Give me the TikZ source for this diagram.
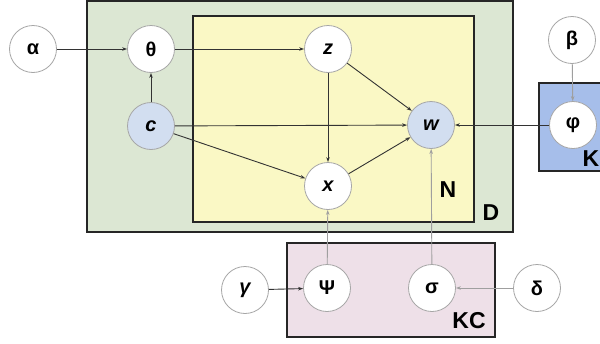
\documentclass[tikz,border=0pt]{standalone}
\usepackage{fontspec}
\setmainfont{Liberation Sans}
\usetikzlibrary{arrows.meta}
\definecolor{dgreen}{HTML}{DCE7D3}
\definecolor{nyellow}{HTML}{FAF8C5}
\definecolor{kblue}{HTML}{A6BEEA}
\definecolor{kcpink}{HTML}{EEE0E8}
\definecolor{obsblue}{HTML}{D2DEF0}
\definecolor{edgegray}{HTML}{333333}
\tikzset{
  var/.style={circle, draw=gray!70, line width=0.8pt, fill=white, minimum size=47pt, inner sep=0pt, font=\fontsize{20}{24}\selectfont\bfseries},
  obs/.style={var, fill=obsblue},
  plate/.style={draw=black!85, line width=1.3pt},
  platelabel/.style={font=\fontsize{23}{26}\selectfont\bfseries, inner sep=0pt},
  edge/.style={draw=edgegray, line width=0.9pt, -{Stealth[length=5pt,width=3.5pt]}},
  ledge/.style={edge, draw=gray!75}
}
\begin{document}
\begin{tikzpicture}[x=1pt,y=-1pt]
\useasboundingbox (0,0) rectangle (600,343);
\fill[white] (0,0) rectangle (600,343);
% plates
\draw[plate, fill=dgreen] (87,1) rectangle (513,232);
\draw[plate, fill=nyellow] (193,16) rectangle (474,222);
\draw[plate, fill=kblue] (539,83) rectangle (620,171);
\draw[plate, fill=kcpink] (287,243) rectangle (495,337);
\node[platelabel] (Nlab) at (448,190) {N};
\node[platelabel] (Dlab) at (491,213) {D};
\node[platelabel] (Klab) at (591,159) {K};
\node[platelabel] (KClab) at (469,321) {KC};
% nodes
\node[var] (alpha) at (33,49) {α};
\node[var] (theta) at (151,49) {θ};
\node[obs] (c) at (151,126) {\itshape c};
\node[var] (z) at (328,49) {\itshape z};
\node[obs] (w) at (431,125) {\itshape w};
\node[var] (x) at (328,186) {\itshape x};
\node[var] (phi) at (573,125) {φ};
\node[var] (beta) at (572,40) {β};
\node[var] (gamma) at (245,290) {\itshape γ};
\node[var] (psi) at (327,288) {Ψ};
\node[var] (sigma) at (432,288) {σ};
\node[var] (delta) at (537,288) {δ};
% edges
\draw[edge] (alpha) -- (theta);
\draw[edge] (theta) -- (z);
\draw[edge] (c) -- (theta);
\draw[edge] (c) -- (w);
\draw[edge] (c) -- (x);
\draw[edge] (z) -- (x);
\draw[edge] (z) -- (w);
\draw[edge] (x) -- (w);
\draw[edge] (phi) -- (w);
\draw[ledge] (beta) -- (phi);
\draw[edge] (gamma) -- (psi);
\draw[ledge] (psi) -- (x);
\draw[ledge] (sigma) -- (w);
\draw[ledge] (delta) -- (sigma);
\end{tikzpicture}
\end{document}
